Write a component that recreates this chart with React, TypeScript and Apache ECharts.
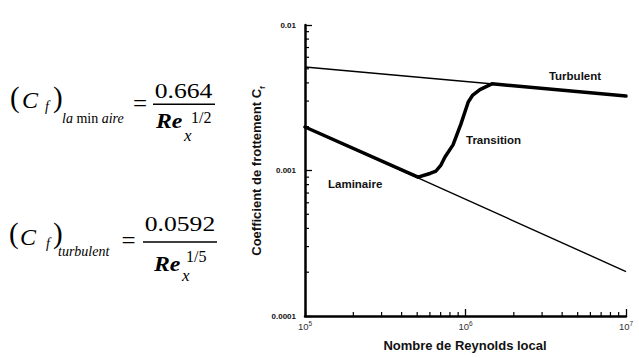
import React, { useEffect, useRef } from "react";
import * as echarts from "echarts";

// Axis ticks (log scales)
const xMajor = [1e5, 1e6, 1e7];
const xExponents = ["5", "6", "7"];
const yMajor = [0.0001, 0.001, 0.01];
const yTickLabels = ["0.0001", "0.001", "0.01"];
const xMinor = [2e5, 3e5, 4e5, 5e5, 6e5, 7e5, 8e5, 9e5, 2e6, 3e6, 4e6, 5e6, 6e6, 7e6, 8e6, 9e6];
const yMinor = [2e-4, 3e-4, 4e-4, 5e-4, 6e-4, 7e-4, 8e-4, 9e-4, 2e-3, 3e-3, 4e-3, 5e-3, 6e-3, 7e-3, 8e-3, 9e-3];

// Thin reference curves
const laminarRe = [1e5, 1e7];
const laminarCf = [0.00199, 0.000202];
const turbulentRe = [1e5, 1e7];
const turbulentCf = [0.00514, 0.00325];

// Thick "actual" curve: laminar -> transition -> turbulent
const actualRe = [1e5, 5.06e5, 6.01e5, 6.55e5, 7.03e5, 7.45e5, 8.36e5, 9.37e5, 1.04e6, 1.11e6, 1.23e6, 1.46e6, 1e7];
const actualCf = [0.00199, 0.0009, 0.000954, 0.000992, 0.00109, 0.00124, 0.0015, 0.00209, 0.00296, 0.0033, 0.0036, 0.00394, 0.00325];

const SERIF = "'Liberation Serif', 'Times New Roman', serif";
const SANS = "'Liberation Sans', Arial, Helvetica, sans-serif";

const zip = (a: number[], b: number[]) => a.map((v, i) => [v, b[i]]);

function ft(text: string, x: number, base: number, size: number, opt: any = {}) {
  return {
    type: "text",
    x,
    y: base - 0.3375 * size,
    scaleX: opt.sx || 1,
    scaleY: opt.sy || 1,
    silent: true,
    style: {
      text,
      fontFamily: SERIF,
      fontSize: size,
      fontStyle: opt.italic ? "italic" : "normal",
      fontWeight: opt.bold ? "bold" : "normal",
      fill: "#000",
      align: opt.align || "left",
      verticalAlign: "middle",
      rich: opt.rich,
    },
  };
}

function fracLine(x1: number, x2: number, y: number) {
  return {
    type: "line",
    silent: true,
    shape: { x1, y1: y, x2, y2: y },
    style: { stroke: "#000", lineWidth: 1.4 },
  };
}

function label(text: string, x: number, y: number, align: string) {
  return {
    type: "text",
    x,
    y,
    silent: true,
    style: {
      text,
      fontFamily: SANS,
      fontSize: 11.5,
      fontWeight: "bold",
      fill: "#111",
      align,
      verticalAlign: "middle",
    },
  };
}

const subRich = {
  i: { fontFamily: SERIF, fontSize: 14, fontStyle: "italic", fill: "#000" },
  u: { fontFamily: SERIF, fontSize: 14, fontStyle: "normal", fill: "#000" },
};

function findIdx(arr: number[], v: number) {
  return arr.findIndex((m) => Math.abs(Math.log10(m) - Math.log10(v)) < 1e-6);
}

export default function App() {
  const ref = useRef<HTMLDivElement>(null);
  useEffect(() => {
    if (!ref.current) return;
    const chart = echarts.init(ref.current, undefined, { renderer: "svg" });
    const option: any = {
      animation: false,
      grid: { left: 305, right: 13, top: 25, bottom: 42 },
      xAxis: {
        type: "log",
        logBase: 10,
        min: 1e5,
        max: 1e7,
        axisLine: { lineStyle: { color: "#000", width: 2.5 } },
        axisTick: { inside: true, length: 7, lineStyle: { color: "#000", width: 1.3 } },
        splitLine: { show: false },
        axisLabel: {
          margin: 4,
          color: "#333",
          formatter: (v: number) => {
            const i = findIdx(xMajor, v);
            return i >= 0 ? "{b|10}{s|" + xExponents[i] + "}" : "";
          },
          rich: {
            b: { fontFamily: SANS, fontSize: 9.5, color: "#333", lineHeight: 11, verticalAlign: "bottom" },
            s: { fontFamily: SANS, fontSize: 6.5, color: "#333", verticalAlign: "top" },
          },
        },
      },
      yAxis: {
        type: "log",
        logBase: 10,
        min: 0.0001,
        max: 0.01,
        axisLine: { lineStyle: { color: "#000", width: 2.5 } },
        axisTick: { inside: true, length: 7, lineStyle: { color: "#000", width: 1.3 } },
        splitLine: { show: false },
        axisLabel: {
          margin: 9,
          color: "#111",
          fontFamily: SANS,
          fontSize: 8,
          fontWeight: "bold",
          formatter: (v: number) => {
            const i = findIdx(yMajor, v);
            return i >= 0 ? yTickLabels[i] : "";
          },
        },
      },
      series: [
        {
          type: "line",
          data: zip(laminarRe, laminarCf),
          symbol: "none",
          lineStyle: { color: "#000", width: 1.4 },
          silent: true,
        },
        {
          type: "line",
          data: zip(turbulentRe, turbulentCf),
          symbol: "none",
          lineStyle: { color: "#000", width: 1.4 },
          silent: true,
        },
        {
          type: "line",
          data: zip(actualRe, actualCf),
          symbol: "none",
          lineStyle: { color: "#000", width: 3.5, join: "round", cap: "round" },
          silent: true,
        },
        {
          type: "custom",
          coordinateSystem: "cartesian2d",
          clip: false,
          silent: true,
          data: xMinor.map((v) => [v, 0.0001]),
          renderItem: (params: any, api: any) => {
            const p = api.coord([api.value(0), api.value(1)]);
            return {
              type: "line",
              shape: { x1: p[0], y1: p[1], x2: p[0], y2: p[1] - 4 },
              style: { stroke: "#000", lineWidth: 1.2 },
            };
          },
        },
        {
          type: "custom",
          coordinateSystem: "cartesian2d",
          clip: false,
          silent: true,
          data: yMinor.map((v) => [1e5, v]),
          renderItem: (params: any, api: any) => {
            const p = api.coord([api.value(0), api.value(1)]);
            return {
              type: "line",
              shape: { x1: p[0], y1: p[1], x2: p[0] + 4, y2: p[1] },
              style: { stroke: "#000", lineWidth: 1.2 },
            };
          },
        },
      ],
      graphic: [
        // Curve labels
        label("Turbulent", 575, 76, "center"),
        label("Transition", 466, 140, "left"),
        label("Laminaire", 328, 184, "left"),
        // Axis names
        {
          type: "text",
          x: 465,
          y: 345,
          silent: true,
          style: {
            text: "Nombre de Reynolds local",
            fontFamily: SANS,
            fontSize: 13,
            fontWeight: "bold",
            fill: "#111",
            align: "center",
            verticalAlign: "middle",
          },
        },
        {
          type: "text",
          x: 258,
          y: 171,
          rotation: Math.PI / 2,
          silent: true,
          style: {
            text: "{m|Coefficient de frottement C}{s|f}",
            align: "center",
            verticalAlign: "middle",
            rich: {
              m: { fontFamily: SANS, fontSize: 13, fontWeight: "bold", fill: "#111", lineHeight: 17, verticalAlign: "top" },
              s: { fontFamily: SANS, fontSize: 8, fontWeight: "bold", fill: "#111", verticalAlign: "bottom" },
            },
          },
        },
        // Formula 1 (laminaire)
        ft("(", 10, 107, 29),
        ft("C", 22, 108, 24, { italic: true }),
        ft("f", 45, 111.5, 14, { italic: true }),
        ft(")", 53, 107, 29),
        ft("{i|la} {u|min} {i|aire}", 62, 123, 14, { rich: subRich }),
        ft("=", 140, 112, 25, { align: "center" }),
        fracLine(153, 215, 104.3),
        ft("0.664", 183.5, 97.5, 21, { align: "center", sx: 1.22 }),
        ft("Re", 156, 128, 22, { bold: true, italic: true, sx: 1.08 }),
        ft("x", 184, 141, 17, { italic: true }),
        ft("1/2", 191, 123, 16),
        // Formula 2 (turbulent)
        ft("(", 9, 243, 29),
        ft("C", 20, 245, 24, { italic: true }),
        ft("f", 46, 248.5, 14, { italic: true }),
        ft(")", 53, 243, 29),
        ft("turbulent", 58, 256, 14, { italic: true }),
        ft("=", 128.5, 249, 25, { align: "center" }),
        fracLine(143, 217, 242),
        ft("0.0592", 180, 230.5, 21, { align: "center", sx: 1.22 }),
        ft("Re", 154, 271, 22, { bold: true, italic: true, sx: 1.08 }),
        ft("x", 182, 281, 17, { italic: true }),
        ft("1/5", 186, 262, 16),
      ],
    };
    chart.setOption(option);
    return () => chart.dispose();
  }, []);
  return (
    <div
      ref={ref}
      style={{ position: "absolute", left: 0, top: 0, width: 639, height: 358, background: "#fff" }}
    />
  );
}
